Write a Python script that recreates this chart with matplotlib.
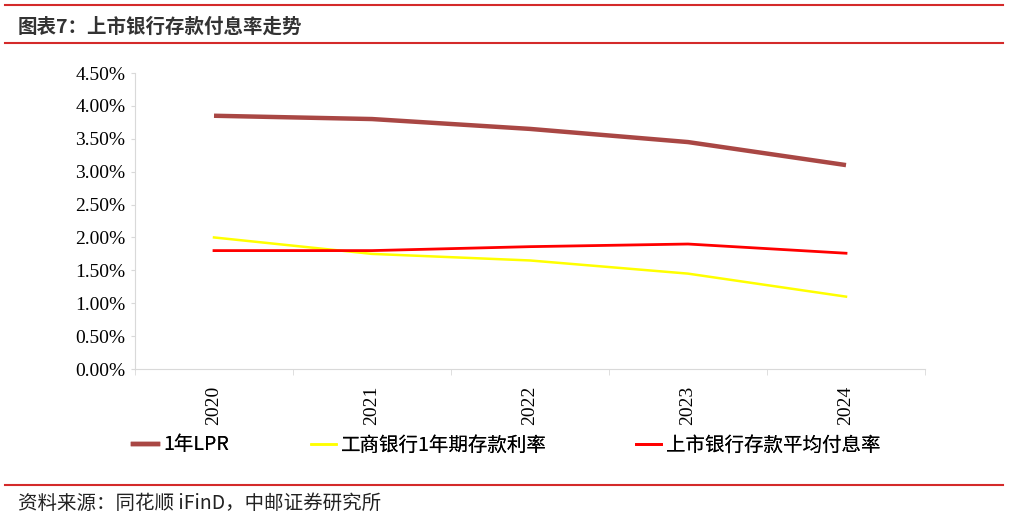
import matplotlib
matplotlib.use('Agg')
import matplotlib.pyplot as plt
from matplotlib.lines import Line2D
from matplotlib.ticker import FuncFormatter

plt.rcParams['font.family'] = ['Noto Sans CJK SC', 'DejaVu Sans']

# data (percent)
years = ['2020', '2021', '2022', '2023', '2024']
lpr_1y = [3.85, 3.80, 3.65, 3.45, 3.10]
icbc_1y_deposit = [2.00, 1.75, 1.65, 1.45, 1.10]
listed_bank_cost = [1.80, 1.80, 1.86, 1.90, 1.76]

series_names = ['1年LPR', '工商银行1年期存款利率', '上市银行存款平均付息率']

rule_color = '#D42A2A'
axis_gray = '#D9D9D9'

fig = plt.figure(figsize=(10.09, 5.19), dpi=100)

# header / footer rules and text
for y in (1 - 5 / 519, 1 - 43 / 519, 1 - 485 / 519):
    fig.add_artist(Line2D([5 / 1009, 1003 / 1009], [y, y], color=rule_color, lw=1.5))
fig.text(18 / 1009, 1 - 27 / 519, '图表7：上市银行存款付息率走势', fontsize=14,
         fontweight='bold', va='center', ha='left', color='#333333')
fig.text(18 / 1009, 1 - 503 / 519, '资料来源：同花顺 iFinD，中邮证券研究所', fontsize=14,
         va='center', ha='left', color='#222222')

ax = fig.add_axes([135 / 1009, 1 - 369 / 519, 790 / 1009, 296 / 519])
x = list(range(len(years)))
ax.plot(x, lpr_1y, color='#A94744', lw=3.2, solid_capstyle='butt')
ax.plot(x, icbc_1y_deposit, color='#FFFF00', lw=1.8)
ax.plot(x, listed_bank_cost, color='#FF0000', lw=2.0)

ax.set_xlim(-0.5, len(years) - 0.5)
ax.set_ylim(0, 4.5)
ax.set_yticks([i * 0.5 for i in range(10)])
ax.yaxis.set_major_formatter(FuncFormatter(lambda v, p: f'{v:.2f}%'))
for lab in ax.get_yticklabels():
    lab.set_family('Liberation Serif')
    lab.set_fontsize(14)

ax.set_xticks(x)
ax.set_xticklabels(years, rotation=90, family='Liberation Serif', fontsize=14)
ax.set_xticks([i - 0.5 for i in range(len(years) + 1)], minor=True)
ax.tick_params(axis='x', which='major', length=0, pad=12)
ax.tick_params(axis='x', which='minor', length=4, color=axis_gray, direction='out')
ax.tick_params(axis='y', length=3, color=axis_gray, pad=4)

for side in ('top', 'right'):
    ax.spines[side].set_visible(False)
ax.spines['left'].set_color(axis_gray)
ax.spines['bottom'].set_color(axis_gray)

# legend entries placed along one row like the source
handles = [
    Line2D([], [], color='#A94744', lw=3.2),
    Line2D([], [], color='#FFFF00', lw=1.8),
    Line2D([], [], color='#FF0000', lw=2.0),
]
legend_x = [133 / 1009, 311 / 1009, 636 / 1009]
for h, name, lx in zip(handles, series_names, legend_x):
    leg = fig.legend([h], [name], loc='center left', bbox_to_anchor=(lx, 1 - 445 / 519),
                     frameon=False, fontsize=14, handlelength=1.3, handletextpad=0.25,
                     borderpad=0, borderaxespad=0)
    fig.add_artist(leg)

fig.savefig('out.png', dpi=100)
